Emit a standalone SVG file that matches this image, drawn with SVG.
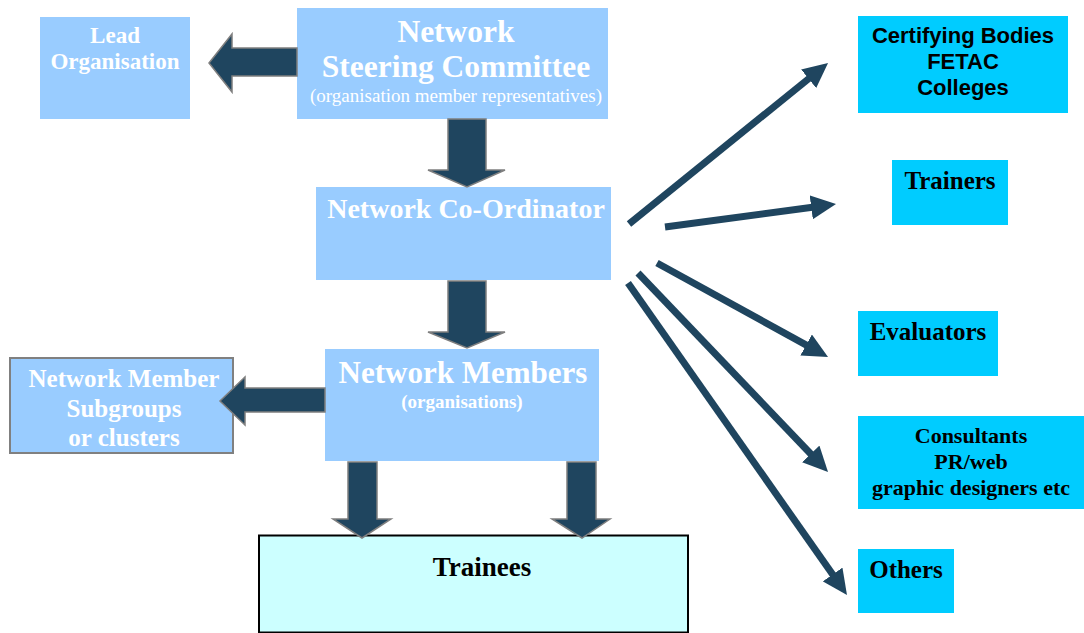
<svg xmlns="http://www.w3.org/2000/svg" width="1084" height="633" viewBox="0 0 1084 633">
  <style>
    .org { fill: #99CCFF; }
    .ext { fill: #00CCFF; }
    .wt { fill: #FFFFFF; font-family: "Liberation Serif", "Times New Roman", serif; font-weight: bold; text-anchor: middle; }
    .wn { fill: #FFFFFF; font-family: "Liberation Serif", "Times New Roman", serif; font-weight: normal; text-anchor: middle; }
    .bt { fill: #000000; font-family: "Liberation Serif", "Times New Roman", serif; font-weight: bold; text-anchor: middle; }
    .bs { fill: #000000; font-family: "Liberation Sans", Arial, sans-serif; font-weight: bold; text-anchor: middle; }
    .block { fill: #1F455F; stroke: #7F7F7F; stroke-width: 1.5; stroke-linejoin: miter; }
    .line { stroke: #1F455F; stroke-width: 7; fill: none; marker-end: url(#head); }
  </style>
  <defs>
    <marker id="head" viewBox="0 0 25 24" markerUnits="userSpaceOnUse" markerWidth="25" markerHeight="24" refX="5" refY="12" orient="auto">
      <path d="M0,0 L25,12 L0,24 Z" fill="#1F455F"/>
    </marker>
  </defs>

  <rect width="1084" height="633" fill="#FFFFFF"/>

  <!-- organisation structure -->
  <g id="lead-organisation">
    <rect class="org" x="40" y="17" width="150" height="102"/>
    <text class="wt" x="115" y="43" font-size="23">Lead</text>
    <text class="wt" x="115" y="69" font-size="23">Organisation</text>
  </g>

  <g id="steering-committee">
    <rect class="org" x="297" y="8" width="311" height="111"/>
    <text class="wt" x="456" y="42" font-size="31.5">Network</text>
    <text class="wt" x="456" y="77" font-size="31.5">Steering Committee</text>
    <text class="wn" x="456" y="102" font-size="19">(organisation member representatives)</text>
  </g>

  <g id="co-ordinator">
    <rect class="org" x="316" y="187" width="295" height="93"/>
    <text class="wt" x="466" y="218" font-size="28">Network Co-Ordinator</text>
  </g>

  <g id="network-members">
    <rect class="org" x="325" y="349" width="274" height="112"/>
    <text class="wt" x="463" y="383" font-size="31">Network Members</text>
    <text class="wt" x="462" y="408" font-size="19">(organisations)</text>
  </g>

  <g id="subgroups">
    <rect class="org" x="10" y="358" width="223" height="95" stroke="#808080" stroke-width="2"/>
    <text class="wt" x="124" y="387" font-size="25">Network Member</text>
    <text class="wt" x="124" y="417" font-size="25">Subgroups</text>
    <text class="wt" x="124" y="446" font-size="25">or clusters</text>
  </g>

  <g id="trainees">
    <rect x="259" y="535.5" width="429" height="97" fill="#CCFFFF" stroke="#000000" stroke-width="2"/>
    <text class="bt" x="482" y="576" font-size="27">Trainees</text>
  </g>

  <!-- external partners -->
  <g id="certifying-bodies">
    <rect class="ext" x="858" y="16" width="210" height="97"/>
    <text class="bs" x="963" y="43" font-size="22">Certifying Bodies</text>
    <text class="bs" x="963" y="69" font-size="22">FETAC</text>
    <text class="bs" x="963" y="95" font-size="22">Colleges</text>
  </g>

  <g id="trainers">
    <rect class="ext" x="892" y="160" width="116" height="65"/>
    <text class="bt" x="950" y="189" font-size="25">Trainers</text>
  </g>

  <g id="evaluators">
    <rect class="ext" x="858" y="311" width="140" height="65"/>
    <text class="bt" x="928" y="340" font-size="25">Evaluators</text>
  </g>

  <g id="consultants">
    <rect class="ext" x="858" y="416" width="226" height="93"/>
    <text class="bt" x="971" y="443" font-size="22">Consultants</text>
    <text class="bt" x="971" y="469" font-size="22">PR/web</text>
    <text class="bt" x="971" y="495" font-size="22">graphic designers etc</text>
  </g>

  <g id="others">
    <rect class="ext" x="858" y="549" width="96" height="64"/>
    <text class="bt" x="906" y="578" font-size="25">Others</text>
  </g>

  <!-- connectors -->
  <g id="connectors">
    <!-- block arrows -->
    <path class="block" d="M297,48 L232,48 L232,34 L209,63 L232,92 L232,76 L297,76 Z"/>
    <path class="block" d="M448,119 L448,170 L428,170 L467,187 L505,170 L486,170 L486,119 Z"/>
    <path class="block" d="M448,281 L448,332 L428,332 L467,348 L505,332 L486,332 L486,281 Z"/>
    <path class="block" d="M325,388 L245,388 L245,377 L220,401 L245,425 L245,412 L325,412 Z"/>
    <path class="block" d="M348,462 L348,519 L333,519 L362,538 L391,519 L377,519 L377,462 Z"/>
    <path class="block" d="M567,462 L567,519 L552,519 L582,538 L610,519 L596,519 L596,462 Z"/>

    <!-- fan of links from the co-ordinator -->
    <line class="line" x1="629" y1="224" x2="812.5" y2="75.6"/>
    <line class="line" x1="665" y1="227" x2="816.2" y2="206.7"/>
    <line class="line" x1="657" y1="263" x2="810.5" y2="347.4"/>
    <line class="line" x1="638" y1="273" x2="814.2" y2="457.5"/>
    <line class="line" x1="628" y1="283" x2="835.5" y2="578.6"/>
  </g>
</svg>
